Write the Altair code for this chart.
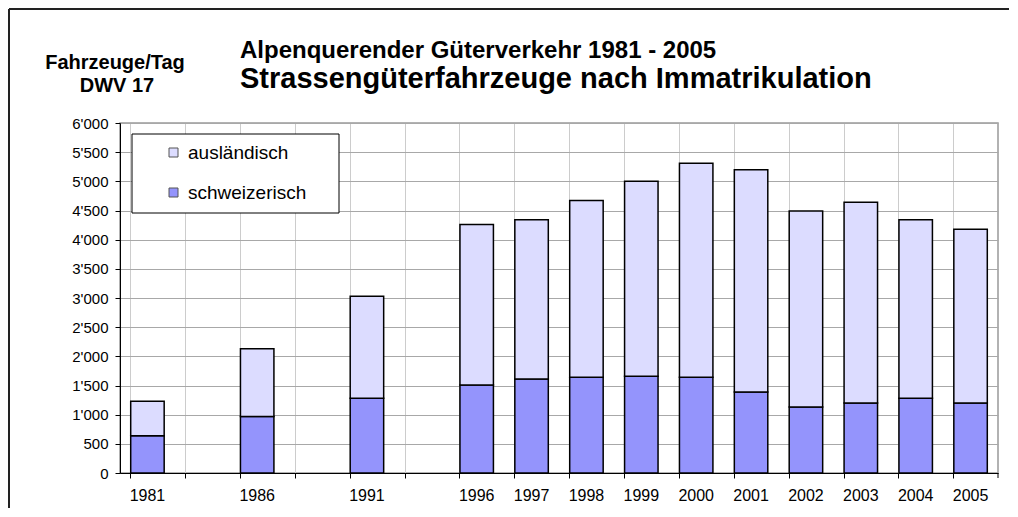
import altair as alt
import pandas as pd

# ---- data ----
years = ["1981", "1986", "1991", "1996", "1997", "1998", "1999",
         "2000", "2001", "2002", "2003", "2004", "2005"]
total = [1230, 2130, 3030, 4260, 4340, 4670, 5000,
         5310, 5200, 4490, 4640, 4340, 4180]
swiss = [640, 970, 1280, 1510, 1610, 1640, 1660,
         1640, 1390, 1130, 1200, 1280, 1200]
# x slots, including the empty slots between the early years
x_slots = ["1981", "g1", "1986", "g2", "1991", "g3", "1996", "1997", "1998",
           "1999", "2000", "2001", "2002", "2003", "2004", "2005"]
y_ticks = [0, 500, 1000, 1500, 2000, 2500, 3000, 3500, 4000, 4500, 5000, 5500, 6000]
series = ["ausländisch", "schweizerisch"]
colors = ["#dcdcff", "#9494fc"]

title1 = "Alpenquerender Güterverkehr 1981 - 2005"
title2 = "Strassengüterfahrzeuge nach Immatrikulation"
unit1 = "Fahrzeuge/Tag"
unit2 = "DWV 17"

rows = []
for y, t, s in zip(years, total, swiss):
    rows.append({"year": y, "cat": "schweizerisch", "amount": s, "ord": 0})
    rows.append({"year": y, "cat": "ausländisch", "amount": t - s, "ord": 1})
df = pd.DataFrame(rows)

W, H = 878, 350

bars = alt.Chart(df).mark_bar(stroke="black", strokeWidth=1.5).encode(
    x=alt.X("year:N",
            scale=alt.Scale(domain=x_slots, paddingInner=0.39, paddingOuter=0.195),
            axis=alt.Axis(title=None, labelAngle=0, bandPosition=0, grid=True,
                          gridColor="#cccccc", gridWidth=1,
                          domainColor="black", tickColor="black", tickSize=5,
                          labelFontSize=16, labelPadding=9, labelColor="black",
                          labelExpr="indexof(datum.value, 'g') == 0 ? '' : datum.value")),
    y=alt.Y("amount:Q", stack="zero",
            scale=alt.Scale(domain=[0, 6000], nice=False),
            axis=alt.Axis(title=None, values=y_ticks, grid=True, gridColor="#a8a8a8",
                          domainColor="black", tickColor="black", tickSize=5,
                          labelFontSize=15, labelPadding=7, labelColor="black",
                          labelExpr="replace(format(datum.value, ','), ',', \"'\")")),
    color=alt.Color("cat:N", scale=alt.Scale(domain=series, range=colors),
                    legend=alt.Legend(title=None, orient="none", legendX=44, legendY=20,
                                      symbolType="square", symbolSize=81,
                                      symbolStrokeColor="#555555", symbolStrokeWidth=1,
                                      labelFontSize=19, labelOffset=5, rowPadding=20,
                                      labelColor="black", padding=0)),
    order=alt.Order("ord:Q"),
)

one = pd.DataFrame({"k": [0]})

frame_left = alt.Chart(one).mark_rule(color="#222222", strokeWidth=2).encode(
    x=alt.value(-111), y=alt.value(-114), y2=alt.value(385))
frame_top = alt.Chart(one).mark_rule(color="#222222", strokeWidth=2).encode(
    x=alt.value(-111), x2=alt.value(889), y=alt.value(-114))
end_tick = alt.Chart(one).mark_rule(color="black", strokeWidth=1).encode(
    x=alt.value(W), y=alt.value(H), y2=alt.value(H + 5))

legend_box = alt.Chart(one).mark_rect(fill="white", stroke="black", strokeWidth=1).encode(
    x=alt.value(12), x2=alt.value(219), y=alt.value(11), y2=alt.value(90))


def txt(s, x, y, size, align):
    return alt.Chart(pd.DataFrame({"t": [s]})).mark_text(
        fontSize=size, fontWeight="bold", align=align, baseline="alphabetic",
        color="black").encode(text="t:N", x=alt.value(x), y=alt.value(y))


chart = alt.layer(
    frame_left, frame_top, bars, end_tick, legend_box,
    txt(title1, 120, -65, 24, "left"),
    txt(title2, 120, -35, 29, "left"),
    txt(unit1, -5, -54, 20, "center"),
    txt(unit2, -3, -31, 20, "center"),
).properties(width=W, height=H, padding=0).configure(
    font="Liberation Sans"
).configure_view(stroke="#999999", strokeWidth=1.5)

chart.save("out.html", embed_options={"renderer": "svg", "actions": False})
